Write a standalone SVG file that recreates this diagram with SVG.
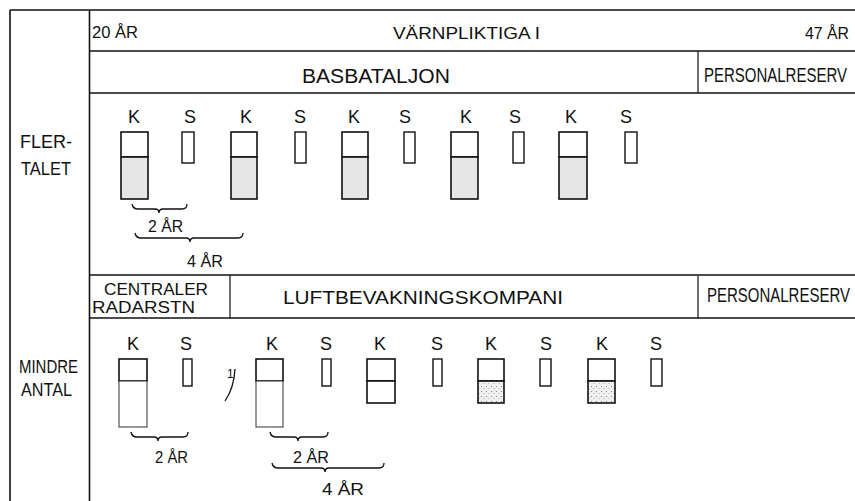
<svg xmlns="http://www.w3.org/2000/svg" width="855" height="501" viewBox="0 0 855 501">
<style>
.t{font-family:"Liberation Sans",Arial,sans-serif;fill:#111;}
.ln{stroke:#111;stroke-width:1.6;fill:none;}
.lt{stroke:#111;stroke-width:1.2;fill:none;}
.kt{fill:#fff;stroke:#111;stroke-width:1.6;}
.kb{fill:#e6e6e6;stroke:#111;stroke-width:1.6;}
.kf{fill:#fff;stroke:#333;stroke-width:1;}
.kd{fill:url(#dots);stroke:#111;stroke-width:1.6;}
.s{fill:#fff;stroke:#111;stroke-width:1.4;}
.br{stroke:#111;stroke-width:1.3;fill:none;}
</style>
<defs>
<pattern id="dots" width="5" height="5" patternUnits="userSpaceOnUse">
<rect width="5" height="5" fill="#f0f0f0"/>
<circle cx="1.5" cy="1.5" r="0.6" fill="#777"/>
<circle cx="4" cy="3.5" r="0.5" fill="#999"/>
</pattern>
</defs>
<rect width="855" height="501" fill="#fff"/>

<g id="frame">
<line class="ln" x1="10" y1="10" x2="855" y2="10"/>
<line class="ln" x1="10" y1="10" x2="10" y2="501"/>
<line class="ln" x1="89.5" y1="10" x2="89.5" y2="501"/>
<line class="ln" x1="89" y1="51" x2="855" y2="51"/>
<line class="ln" x1="89" y1="93" x2="855" y2="93"/>
<line class="lt" x1="698" y1="51" x2="698" y2="93"/>
<line class="ln" x1="89" y1="275" x2="855" y2="275"/>
<line class="ln" x1="89" y1="318" x2="855" y2="318"/>
<line class="lt" x1="230" y1="275" x2="230" y2="318"/>
<line class="lt" x1="698" y1="276" x2="698" y2="318"/>
</g>

<g id="header">
<text class="t" x="92" y="38" font-size="16" textLength="46" lengthAdjust="spacingAndGlyphs">20 ÅR</text>
<text class="t" x="393" y="39" font-size="17" textLength="147" lengthAdjust="spacingAndGlyphs">VÄRNPLIKTIGA I</text>
<text class="t" x="805" y="39" font-size="16" textLength="44" lengthAdjust="spacingAndGlyphs">47 ÅR</text>
</g>

<g id="basbataljon">
<text class="t" x="302" y="83" font-size="20" textLength="148" lengthAdjust="spacingAndGlyphs">BASBATALJON</text>
</g>
<g id="personalreserv-1">
<text class="t" transform="translate(704,82) scale(1,1.3)" font-size="15">PERSONALRESERV</text>
</g>

<g id="label-flertalet">
<text class="t" x="20" y="148" font-size="19" textLength="52" lengthAdjust="spacingAndGlyphs">FLER-</text>
<text class="t" x="21" y="175" font-size="19" textLength="50" lengthAdjust="spacingAndGlyphs">TALET</text>
</g>

<g id="row-flertalet" class="t" font-size="18" text-anchor="middle">
<text x="134" y="123">K</text><text x="190" y="123">S</text>
<text x="246" y="123">K</text><text x="300" y="123">S</text>
<text x="354" y="123">K</text><text x="405" y="123">S</text>
<text x="466" y="123">K</text><text x="515" y="123">S</text>
<text x="571" y="123">K</text><text x="626" y="123">S</text>
</g>
<g id="boxes-flertalet">
<rect class="kt" x="121" y="132" width="27" height="25"/><rect class="kb" x="121" y="157" width="27" height="42"/>
<rect class="s" x="182" y="132" width="12" height="31"/>
<rect class="kt" x="231" y="132" width="26" height="25"/><rect class="kb" x="231" y="157" width="26" height="42"/>
<rect class="s" x="295" y="132" width="11" height="31"/>
<rect class="kt" x="342" y="132" width="26" height="25"/><rect class="kb" x="342" y="157" width="26" height="42"/>
<rect class="s" x="404" y="132" width="11" height="31"/>
<rect class="kt" x="451" y="132" width="27" height="25"/><rect class="kb" x="451" y="157" width="27" height="42"/>
<rect class="s" x="513" y="132" width="11" height="31"/>
<rect class="kt" x="559" y="132" width="28" height="25"/><rect class="kb" x="559" y="157" width="28" height="42"/>
<rect class="s" x="625" y="132" width="12" height="31"/>
</g>

<g id="centraler">
<text class="t" x="104" y="295" font-size="16" textLength="104" lengthAdjust="spacingAndGlyphs">CENTRALER</text>
<text class="t" x="92" y="313" font-size="16" textLength="103" lengthAdjust="spacingAndGlyphs">RADARSTN</text>
</g>
<g id="luftbevakningskompani">
<text class="t" x="283" y="304" font-size="19" textLength="280" lengthAdjust="spacingAndGlyphs">LUFTBEVAKNINGSKOMPANI</text>
</g>
<g id="personalreserv-2">
<text class="t" transform="translate(707,302) scale(1,1.3)" font-size="15">PERSONALRESERV</text>
</g>

<g id="label-mindre-antal">
<text class="t" x="19" y="373" font-size="18" textLength="59" lengthAdjust="spacingAndGlyphs">MINDRE</text>
<text class="t" x="21" y="396" font-size="18" textLength="51" lengthAdjust="spacingAndGlyphs">ANTAL</text>
</g>

<g id="row-mindre" class="t" font-size="18" text-anchor="middle">
<text x="133" y="350">K</text><text x="186" y="350">S</text>
<text x="272" y="350">K</text><text x="326" y="350">S</text>
<text x="380" y="350">K</text><text x="437" y="350">S</text>
<text x="491" y="350">K</text><text x="546" y="350">S</text>
<text x="602" y="350">K</text><text x="656" y="350">S</text>
</g>
<g id="boxes-mindre">
<rect class="kt" x="119" y="359" width="28" height="22"/><rect class="kf" x="119" y="381" width="28" height="46"/>
<rect class="s" x="183" y="359" width="9" height="27"/>
<rect class="kt" x="256" y="359" width="27" height="22"/><rect class="kf" x="256" y="381" width="27" height="46"/>
<rect class="s" x="322" y="359" width="9" height="27"/>
<rect class="kt" x="367" y="359" width="28" height="22"/><rect class="kt" x="367" y="381" width="28" height="22"/>
<rect class="s" x="433" y="359" width="9" height="27"/>
<rect class="kt" x="478" y="359" width="26" height="22"/><rect class="kd" x="478" y="381" width="26" height="22"/>
<rect class="s" x="540" y="359" width="11" height="27"/>
<rect class="kt" x="588" y="359" width="27" height="22"/><rect class="kd" x="588" y="381" width="27" height="22"/>
<rect class="s" x="651" y="359" width="11" height="27"/>
</g>
<g id="footnote-mark">
<text class="t" x="227" y="378" font-size="12">1</text>
<path class="br" d="M235,369 Q234,388 225,401"/>
</g>

<g id="connectors">
<path class="br" d="M132,204 Q133,209 138,209 L155,209 Q159,209 159,213 Q159,209 163,209 L182,209 Q187,209 187,204"/>
<path class="br" d="M135,233 Q136,238 141,238 L186,238 Q190,238 190,242 Q190,238 194,238 L238,238 Q243,238 243,233"/>
<path class="br" d="M131,432 Q132,437 137,437 L154,437 Q158,437 158,441 Q158,437 162,437 L183,437 Q188,437 188,432"/>
<path class="br" d="M270,432 Q271,437 276,437 L294,437 Q298,437 298,441 Q298,437 302,437 L323,437 Q328,437 328,432"/>
<path class="br" d="M272,463 Q273,468 278,468 L321,468 Q325,468 325,472 Q325,468 329,468 L379,468 Q384,468 384,463"/>
</g>
<g id="bracket-labels" class="t" font-size="17">
<text x="148" y="232" textLength="35" lengthAdjust="spacingAndGlyphs">2 ÅR</text>
<text x="187" y="267" textLength="36" lengthAdjust="spacingAndGlyphs">4 ÅR</text>
<text x="155" y="463" textLength="33" lengthAdjust="spacingAndGlyphs">2 ÅR</text>
<text x="293" y="463" textLength="36" lengthAdjust="spacingAndGlyphs">2 ÅR</text>
<text x="322" y="495" textLength="42" lengthAdjust="spacingAndGlyphs">4 ÅR</text>
</g>
</svg>
